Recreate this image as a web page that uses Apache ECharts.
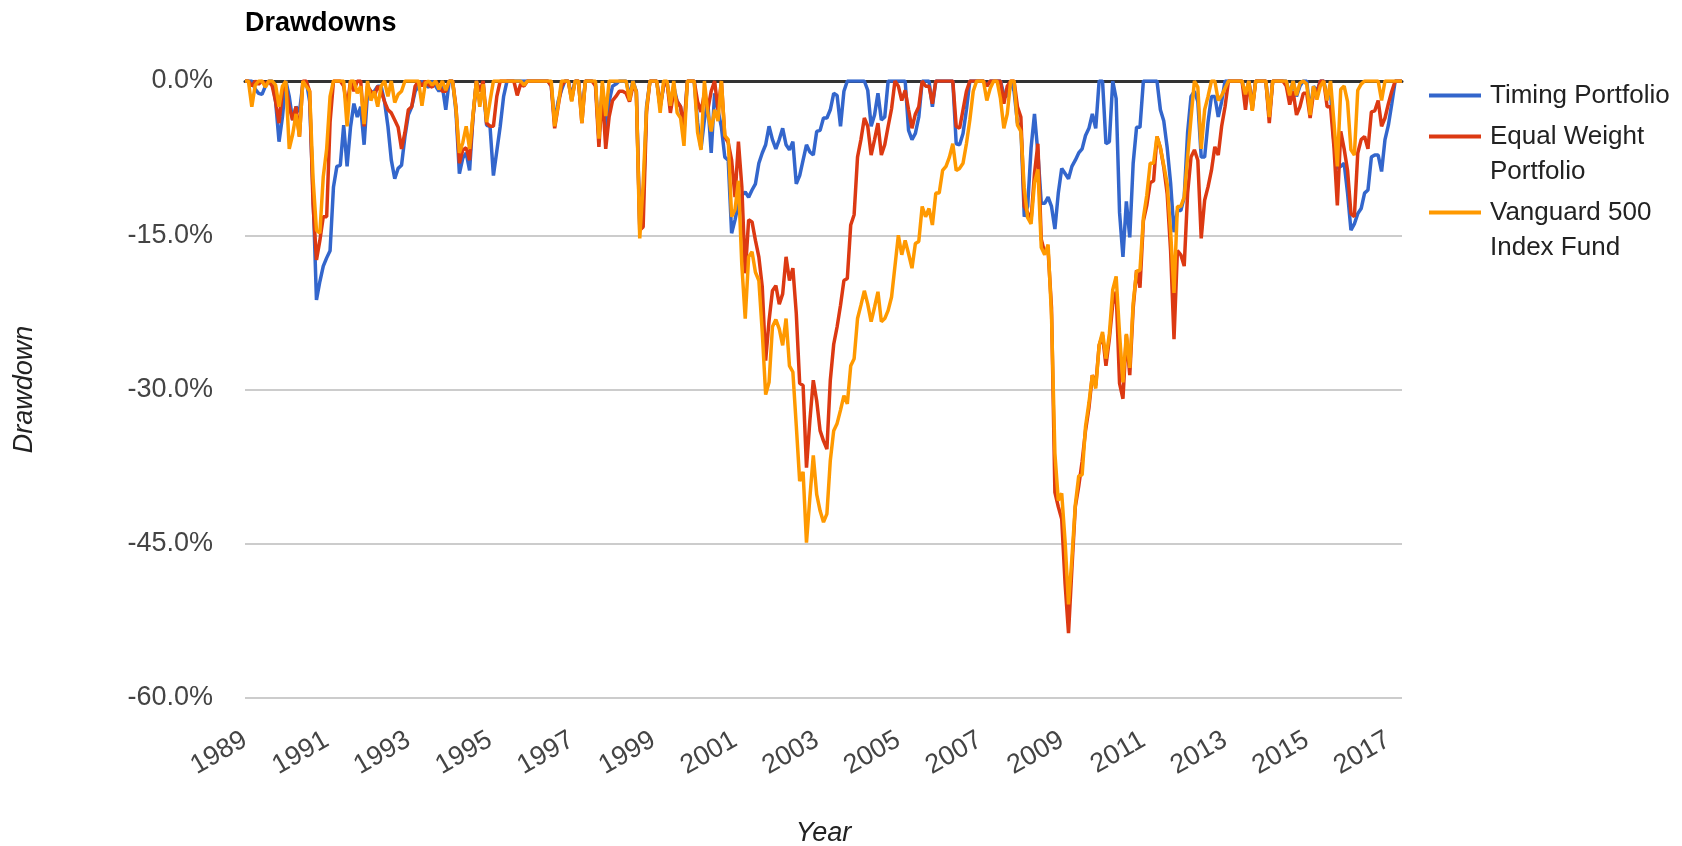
<!DOCTYPE html>
<html>
<head>
<meta charset="utf-8">
<title>Drawdowns</title>
<script src="https://cdn.jsdelivr.net/npm/echarts@6.0.0/dist/echarts.min.js"></script>
<style>
  html, body { margin: 0; padding: 0; background: #fff; }
  #chart { width: 1682px; height: 846px; }
</style>
</head>
<body>
<div id="chart"></div>
<script>
// month-end drawdowns in %, first value is Dec 1988, last is Apr 2017
var startYear = 1989;

var timing = [0,
  0, 0, -0.8, -1.2, -1.3, -0.5, 0, 0, -2, -5.9, -3.5, 0,                        // 1989
  -1.5, -3.8, -2.5, -3, -0.3, 0, -2, -11, -21.3, -19.5, -18, -17.2,             // 1990
  -16.5, -10.3, -8.3, -8.2, -4.3, -8.3, -4.5, -2.2, -3.5, -2.5, -6.2, -1.2,     // 1991
  -1.2, -1, -0.5, -0.5, -2, -4.4, -7.7, -9.5, -8.5, -8.2, -5.4, -3.3,           // 1992
  -2.5, -1, -0.5, 0, -0.4, -0.6, 0, -0.5, -1, -0.5, -2.8, 0,                    // 1993
  0, -3, -9, -7.5, -7, -8.7, -3.5, 0, -1, -0.5, -4.3, -4.4,                     // 1994
  -9.2, -6.8, -4.4, -1.5, 0, 0, 0, 0, 0, 0, 0, 0,                               // 1995
  0, 0, 0, 0, 0, -0.5, -4, -2, -0.9, 0, 0, -1.5,                                // 1996
  0, 0, -3.5, 0, 0, 0, -0.3, -5.5, -0.5, -5, -2, -0.5,                          // 1997
  -0.3, 0, 0, 0, -1.5, 0, -1, -14, -12, -2.5, 0, 0,                             // 1998
  0, -2.5, -0.5, 0, -2.5, -0.5, -2, -2.5, -5, 0, 0, 0,                          // 1999
  -4, -6.6, -3.8, -2, -7, -1.2, -2.8, -4.5, -7.4, -7.7, -14.8, -13.5,           // 2000
  -11.9, -11.1, -10.8, -11.3, -10.6, -10, -8, -7, -6.2, -4.4, -5.7, -6.6,       // 2001
  -5.7, -4.6, -6.2, -6.7, -5.9, -10, -9.2, -7.7, -6.2, -6.9, -7.2, -4.9,        // 2002
  -4.8, -3.6, -3.6, -2.8, -1.2, -1.4, -4.4, -1, 0, 0, 0, 0,                     // 2003
  0, 0, -0.9, -4.4, -3.3, -1.2, -3.8, -3.5, 0, 0, 0, 0,                         // 2004
  0, 0, -4.8, -5.7, -5.1, -3.5, 0, 0, 0, -2.5, 0, 0,                            // 2005
  0, 0, 0, 0, -6.1, -6.2, -5.1, -2.8, 0, 0, 0, 0,                               // 2006
  0, -0.5, 0, 0, 0, 0, -1.3, -1.5, 0, -1, -4.1, -4.4,                           // 2007
  -13.2, -12.2, -6.5, -3.2, -7, -11.9, -11.9, -11.3, -12.2, -14.4, -10.9, -8.5, // 2008
  -9, -9.5, -8.3, -7.7, -7, -6.6, -5.3, -4.6, -3.2, -4.6, 0, 0,                 // 2009
  -6.1, -5.9, 0, -1.7, -12.8, -17.1, -11.7, -15.2, -8, -4.5, -4.5, 0,           // 2010
  0, 0, 0, 0, -2.8, -3.9, -6.5, -9.9, -14.7, -12.6, -12.6, -11.3,               // 2011
  -5, -1.5, -1, -2, -7.4, -7.4, -4, -1.5, -1.5, -3.5, -2, 0,                    // 2012
  0, 0, 0, 0, 0, -1.5, 0, -2.5, 0, 0, 0, 0,                                     // 2013
  -3.5, 0, 0, 0, 0, 0, -1.4, 0, -1.5, -0.5, 0, 0,                               // 2014
  -3, -0.5, -1, 0, 0, -1.5, -1, -6, -8.5, -8.3, -8, -10.9,                      // 2015
  -14.5, -13.9, -12.9, -12.4, -10.9, -10.6, -7.4, -7.2, -7.2, -8.8, -5.7, -4.3, // 2016
  -2.2, 0, 0, 0                                                                 // 2017
];

var equalWeight = [0,
  0, -0.5, 0, -0.3, 0, -0.3, 0, -0.5, -2, -4.1, -1, -0.5,
  -2.5, -3.8, -2.5, -5.4, 0, 0, -1, -12, -17.4, -15.5, -13.2, -13.2,
  -4, 0, 0, 0, -0.5, -2.5, 0, -1, 0, 0, -4.4, -0.5,
  -1, -1.5, -0.5, -1, -2, -2.8, -3.1, -3.8, -4.5, -6.6, -5, -2.8,
  -2.5, -0.5, 0, -0.5, 0, -0.4, -0.6, 0, -0.5, -1, -1, 0,
  0, -2.5, -8, -6.7, -6.5, -7.7, -3.5, 0, -1, 0, -4.1, -4.4,
  -4.4, -1.5, 0, 0, 0, 0, 0, -1.4, -0.3, -0.5, 0, 0,
  0, 0, 0, 0, 0, -0.5, -4.6, -2.5, -0.5, 0, 0, -1.9,
  0, 0, -4.1, 0, 0, 0, -0.5, -6.4, -1, -6.6, -3.5, -1.9,
  -1.5, -1, -1, -1.2, -2, -0.5, -1, -14.5, -14.2, -3, 0, 0,
  0, -2.5, -0.5, 0, -3.1, -1, -2, -2.5, -4.5, 0, 0, 0,
  -2, -3, -1.2, -2.8, -1, 0, -2.8, 0, -5.4, -6, -7.7, -11.3,
  -5.9, -10.3, -18.7, -13.5, -13.7, -15.5, -17.1, -20, -27.2, -23.3, -20.4, -19.9,
  -21.7, -20.7, -17.1, -19.4, -18.2, -22.6, -29.4, -29.6, -37.6, -33, -29.1, -31.1,
  -34, -35, -35.8, -29.1, -25.6, -23.9, -21.8, -19.4, -19.2, -14, -13, -7.4,
  -5.7, -3.6, -4.4, -7.2, -5.7, -4.1, -7.2, -6.2, -4.4, -2.7, 0, -0.5,
  -1.9, -0.9, -2.8, -4.6, -3.2, -2.5, 0, -0.5, -0.5, -2.2, 0, 0,
  0, 0, 0, 0, -4.4, -4.6, -2.8, -1, 0, 0, 0, 0,
  0, -0.5, 0, 0, 0, 0, -2.2, -0.5, 0, 0, -2.5, -3.5,
  -12.2, -12.8, -13.5, -9, -6.1, -15.4, -16.7, -16.5, -22, -40, -41.4, -42.6,
  -48.9, -53.7, -47.4, -41.4, -39.4, -37, -34, -31.8, -28.6, -29.6, -25.7, -24.7,
  -27.7, -25.1, -21.7, -20.5, -29.4, -30.9, -24.7, -28.6, -22.1, -18.4, -20.1, -13.6,
  -12.1, -9.9, -9.7, -5.4, -6.5, -8.4, -11, -16.5, -25.1, -16.5, -16.9, -18,
  -10.9, -7.4, -6.7, -7.7, -15.3, -11.6, -10.3, -8.7, -6.4, -7.2, -4.4, -2.5,
  0, 0, 0, 0, 0, -2.8, 0, -2.8, 0, 0, 0, 0,
  -4.1, 0, 0, 0, 0, -0.5, -2.3, -1, -3.3, -2.5, -1.2, -1.2,
  -3.6, -1.2, -1.2, 0, 0, -2.5, -2.5, -6.4, -12.1, -4.9, -6.6, -8.7,
  -12.9, -13.2, -7, -5.7, -5.4, -6.6, -3, -2.9, -1.9, -4.4, -3.6, -2.2,
  -1, 0, 0, 0
];

var vanguard = [0,
  0, -2.5, -0.4, 0, 0, -0.6, 0, 0, -0.4, -2.5, -0.5, 0,
  -6.6, -5.2, -3.2, -5.4, 0, -0.5, -1, -9.5, -14.5, -14.8, -9.3, -6.6,
  -1.5, 0, 0, 0, 0, -4.4, 0, 0, -1.2, -0.5, -4.2, 0,
  -1.9, -1, -2.5, -0.5, 0, -1.5, 0, -2.1, -1.3, -1, 0, 0,
  0, 0, 0, -2.4, -0.2, 0, -0.4, 0, -0.8, 0, -0.9, 0,
  0, -2.7, -7, -6, -4.4, -6.6, -3.3, 0, -2.5, -0.3, -4, -2,
  0, 0, 0, 0, 0, 0, 0, 0, 0, -0.4, 0, 0,
  0, 0, 0, 0, 0, 0, -4.4, -2.4, 0, 0, 0, -2,
  0, 0, -4.1, 0, 0, 0, 0, -5.6, 0, -3.4, 0, 0,
  0, 0, 0, 0, -1.9, 0, -1.1, -15.3, -10, -2.7, 0, 0,
  0, -3.1, 0, 0, -2.4, 0, -3.1, -3.6, -6.3, 0, 0, 0,
  -5, -6.7, 0, -3.1, -4.9, -2.8, -3.9, 0, -5.3, -5.7, -13.2, -12.5,
  -9.7, -17.9, -23.1, -17.1, -16.6, -18.6, -19.4, -24.4, -30.5, -29.3, -23.9, -23.2,
  -24.1, -25.7, -23.1, -27.7, -28.3, -33.5, -38.9, -38, -44.9, -40.5, -36.4, -40.2,
  -41.8, -42.9, -42.1, -36.9, -34, -33.3, -32, -30.6, -31.4, -27.7, -27, -23.1,
  -21.8, -20.4, -21.7, -23.4, -22, -20.5, -23.4, -23.1, -22.3, -21, -18, -15,
  -16.9, -15.5, -16.8, -18.2, -15.8, -15.6, -12.2, -13.2, -12.4, -14, -10.9, -10.9,
  -8.7, -8.3, -7.4, -6.1, -8.7, -8.5, -8, -6.1, -3.8, -1, 0, 0,
  0, -1.9, -0.7, 0, 0, -1.7, -4.6, -3.2, 0, 0, -4.3, -4.9,
  -10.4, -13.3, -13.9, -9.9, -8.6, -16.2, -16.9, -15.9, -22.8, -36.2, -40.8, -40.1,
  -44.8, -50.9, -46.4, -41.2, -38.4, -38.3, -33.6, -31.3, -28.6, -29.9, -25.7, -24.4,
  -27, -24.6, -20.3, -19, -24.6, -29.3, -24.6, -27.9, -21.6, -18.5, -18.4, -13.3,
  -11.1, -8, -8, -5.4, -6.5, -8.2, -10, -14.6, -20.6, -12.2, -12.2, -11.3,
  -7.4, -3.6, 0, -0.6, -6.6, -2.8, -1.5, 0, 0, -1.9, -1.4, -0.7,
  0, 0, 0, 0, 0, -1.3, 0, -2.9, 0, 0, 0, 0,
  -3.5, 0, 0, 0, 0, 0, -1.4, 0, -1.4, -0.2, 0, -0.3,
  -3.3, -0.5, -1.8, -0.5, 0, -1.9, 0, -4, -8.3, -0.8, -0.5, -2,
  -6.7, -7.2, -0.9, -0.3, 0, 0, 0, 0, 0, -1.9, 0, 0,
  0, 0, 0, 0
];

var seriesNames = ['Timing Portfolio', 'Equal Weight Portfolio', 'Vanguard 500 Index Fund'];
// a leading blank line keeps the legend line beside the first text line
var legendLabels = ['Timing Portfolio', '\nEqual Weight\nPortfolio', '\nVanguard 500\nIndex Fund'];
var seriesColors = ['#3366cc', '#dc3912', '#ff9900'];

var font = '"Liberation Sans", Arial, sans-serif';

// x value = years since Jan 1989, one step per month
function toPoints(values) {
  var pts = [];
  for (var i = 0; i < values.length; i++) {
    pts.push([i / 12, values[i]]);
  }
  return pts;
}

var xMax = (timing.length - 1) / 12;

function makeSeries(idx, values) {
  return {
    name: seriesNames[idx],
    type: 'line',
    data: toPoints(values),
    symbol: 'none',
    color: seriesColors[idx],
    lineStyle: { width: 3.5, color: seriesColors[idx] },
    emphasis: { disabled: true }
  };
}

var myChart = echarts.init(document.getElementById('chart'));
var option = {
  animation: false,
  backgroundColor: '#fff',
  title: {
    text: 'Drawdowns',
    left: 245,
    top: 10,
    padding: 0,
    textStyle: { fontFamily: font, fontSize: 27, fontWeight: 'bold', color: '#000' }
  },
  legend: {
    orient: 'vertical',
    left: 1424,
    top: 73,
    icon: 'rect',
    itemWidth: 52,
    itemHeight: 4,
    itemGap: -29,
    textStyle: { fontFamily: font, fontSize: 26, color: '#222', lineHeight: 35, padding: [0, 0, 0, 4] },
    data: seriesNames,
    formatter: function (name) {
      return legendLabels[seriesNames.indexOf(name)];
    }
  },
  grid: { left: 245, right: 280, top: 81, bottom: 148, outerBoundsMode: 'none' },
  xAxis: [{
    type: 'value',
    min: 0,
    max: xMax,
    interval: 2,
    name: 'Year',
    nameLocation: 'middle',
    nameGap: 122,
    nameTextStyle: { fontFamily: font, fontSize: 27, fontStyle: 'italic', color: '#222' },
    axisLine: { show: false, onZero: false },
    axisTick: { show: false },
    splitLine: { show: false },
    axisLabel: {
      rotate: 30,
      margin: 40,
      fontFamily: font,
      fontSize: 27,
      color: '#444',
      formatter: function (v) {
        return v % 1 === 0 ? String(startYear + v) : '';
      }
    }
  }, {
    // dark baseline at 0%
    type: 'value',
    position: 'top',
    min: 0,
    max: xMax,
    axisLine: { show: true, onZero: false, lineStyle: { color: '#333', width: 3 } },
    axisTick: { show: false },
    axisLabel: { show: false },
    splitLine: { show: false }
  }],
  yAxis: {
    type: 'value',
    min: -60,
    max: 0,
    interval: 15,
    name: 'Drawdown',
    nameLocation: 'middle',
    nameGap: 207,
    nameTextStyle: { fontFamily: font, fontSize: 27, fontStyle: 'italic', color: '#222' },
    axisLine: { show: false },
    axisTick: { show: false },
    axisLabel: {
      margin: 32,
      fontFamily: font,
      fontSize: 27,
      color: '#444',
      formatter: function (v) { return v.toFixed(1) + '%'; }
    },
    splitLine: { lineStyle: { color: '#cccccc', width: 2 } }
  },
  series: [
    makeSeries(0, timing),
    makeSeries(1, equalWeight),
    makeSeries(2, vanguard)
  ]
};
myChart.setOption(option, true);
</script>
</body>
</html>
